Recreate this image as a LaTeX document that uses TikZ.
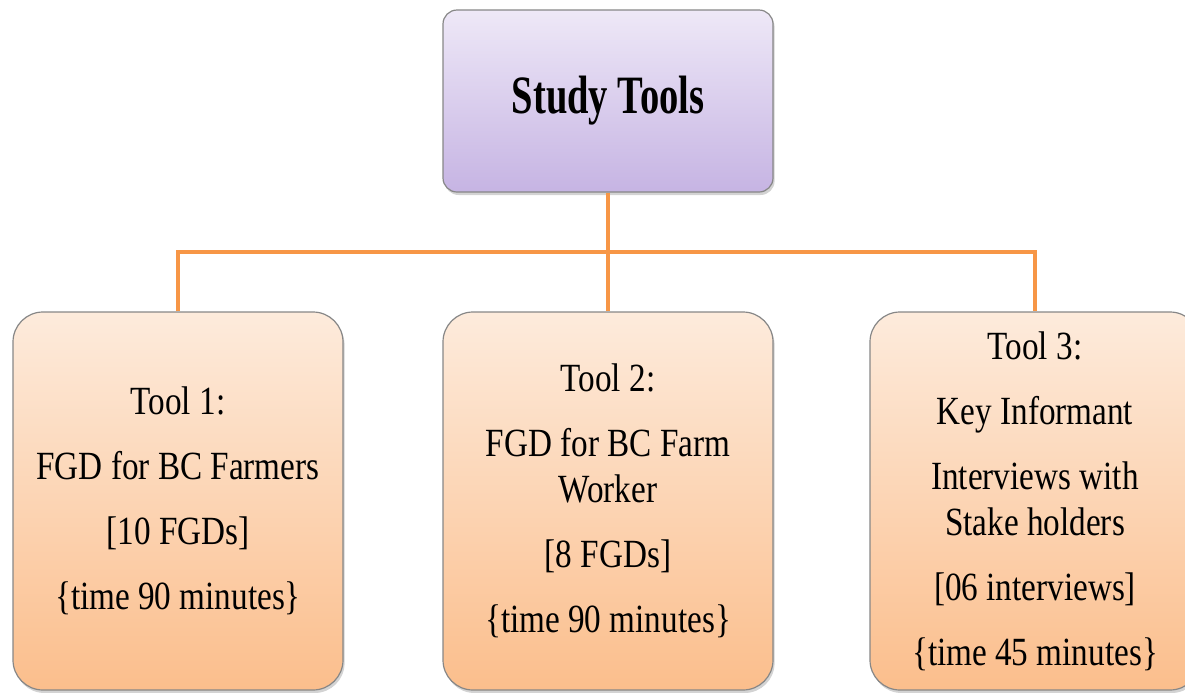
\documentclass[tikz,border=0pt]{standalone}
\usepackage{graphicx}
\usepackage{fontspec}
\setmainfont{Liberation Serif}[FakeStretch=0.83]
\usetikzlibrary{shadows}

\definecolor{lavtop}{RGB}{238,232,247}
\definecolor{lavbot}{RGB}{198,180,227}
\definecolor{peachtop}{RGB}{253,235,220}
\definecolor{peachbot}{RGB}{251,190,140}
\definecolor{linkorange}{RGB}{247,150,70}
\definecolor{edgegray}{RGB}{135,135,135}

\begin{document}
\begin{tikzpicture}[x=0.5pt,y=-0.5pt,
    headbox/.style={draw=edgegray, line width=0.6pt, rounded corners=7pt,
        top color=lavtop, bottom color=lavbot,
        minimum width=165pt, minimum height=91pt,
        drop shadow={shadow xshift=0.8pt, shadow yshift=-1.5pt, opacity=0.35},
        font=\fontsize{27}{30}\selectfont\bfseries},
    toolbox/.style={draw=edgegray, line width=0.6pt, rounded corners=15pt,
        top color=peachtop, bottom color=peachbot,
        minimum width=165pt, minimum height=189pt, align=center,
        drop shadow={shadow xshift=0.8pt, shadow yshift=-1.5pt, opacity=0.35},
        font=\fontsize{20}{23}\selectfont},
    link/.style={linkorange, line width=1.6pt}]

    % Fix the page size
    \useasboundingbox (0,0) rectangle (1185,692);

    % Head box
    \node[headbox] (title) at (608,101) {\scalebox{0.86}[1]{Study Tools}};

    % The three tools
    \node[toolbox] (tool1) at (178,501)
        {Tool 1:\\[9.5pt] FGD for BC Farmers\\[9.5pt] {[10 FGDs]}\\[9.5pt] \{time 90 minutes\}};
    \node[toolbox] (tool2) at (608,501)
        {Tool 2:\\[9.5pt] FGD for BC Farm\\ Worker\\[9.5pt] {[8 FGDs]}\\[9.5pt] \{time 90 minutes\}};
    \node[toolbox] (tool3) at (1035,501)
        {Tool 3:\\[9.5pt] Key Informant\\[9.5pt] Interviews with\\ Stake holders\\[9.5pt] {[06 interviews]}\\[9.5pt] \{time 45 minutes\}};

    % Connectors
    \coordinate (bus) at (608,252);
    \draw[link] (title.south) -- (tool2.north);
    \draw[link] (tool1.north) -- (tool1.north |- bus) -- (tool3.north |- bus) -- (tool3.north);

\end{tikzpicture}
\end{document}
